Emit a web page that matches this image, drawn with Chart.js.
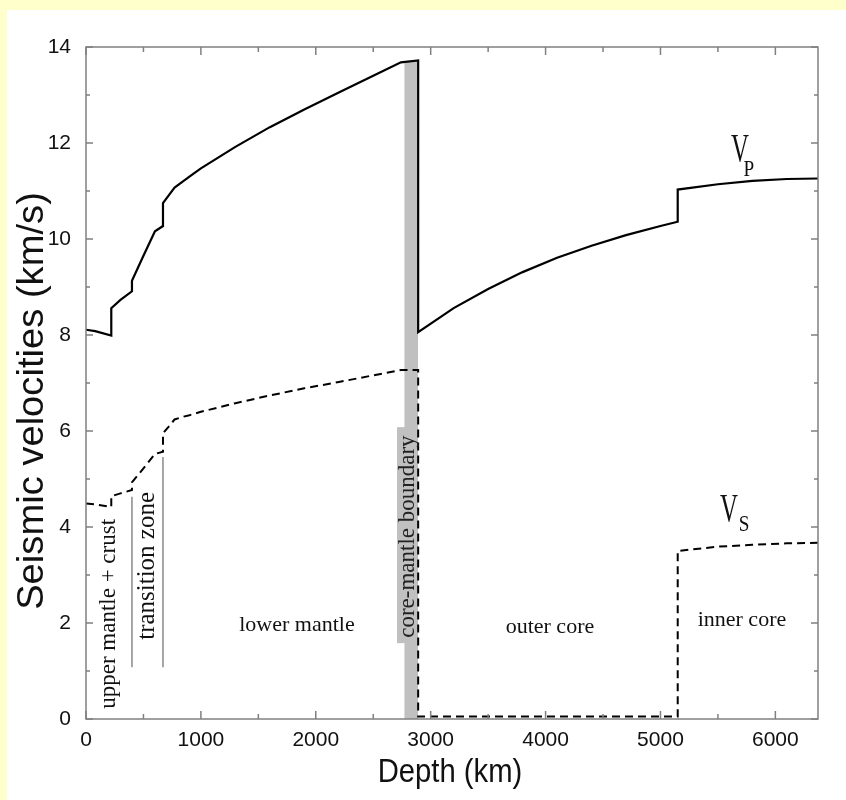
<!DOCTYPE html>
<html>
<head>
<meta charset="utf-8">
<script src="https://cdn.jsdelivr.net/npm/chart.js@4.4.1/dist/chart.umd.min.js"></script>
<style>
  html, body { margin: 0; padding: 0; }
  body { background: #ffffcc; width: 846px; height: 800px; position: relative; overflow: hidden; }
  #caixa { position: absolute; left: 7px; top: 10px; width: 839px; height: 790px; background: #fff; }
  canvas { display: block; }
</style>
</head>
<body>
<div id="caixa"><canvas id="myChart" width="839" height="790"></canvas></div>
<script>
// profundidade (km) e velocidades (km/s)
let vpDepth = [0, 80, 220, 220, 300, 400, 400, 500, 600, 670, 670, 720, 771, 850, 900, 1000, 1300, 1600, 1900, 2200, 2500, 2741, 2891, 2891, 3200, 3500, 3800, 4100, 4400, 4700, 5000, 5150, 5150, 5500, 5800, 6100, 6371];
let vpValues = [8.11, 8.08, 7.99, 8.56, 8.73, 8.91, 9.13, 9.65, 10.16, 10.27, 10.75, 10.91, 11.07, 11.21, 11.30, 11.47, 11.92, 12.33, 12.70, 13.05, 13.40, 13.68, 13.72, 8.06, 8.56, 8.96, 9.31, 9.61, 9.86, 10.08, 10.27, 10.36, 11.03, 11.14, 11.21, 11.25, 11.26];

let vsDepth = [0, 80, 220, 220, 300, 400, 400, 500, 600, 670, 670, 720, 771, 850, 900, 1000, 1300, 1600, 1900, 2200, 2500, 2741, 2891, 2891, 5150, 5150, 5500, 5800, 6100, 6371];
let vsValues = [4.49, 4.47, 4.42, 4.64, 4.70, 4.77, 4.93, 5.22, 5.52, 5.57, 5.95, 6.09, 6.24, 6.30, 6.33, 6.40, 6.58, 6.74, 6.89, 7.02, 7.16, 7.27, 7.27, 0.05, 0.05, 3.50, 3.59, 3.63, 3.66, 3.67];

// faixa cinza da fronteira nucleo-manto
let cmbDepth = [2770, 2891];
let cmbTop = [13.69, 13.72];

// linhas verticais da zona de transicao
let zonaDepth = [400, 670];
let zonaTopo = [4.63, 5.46];
let zonaBase = 1.08;

let xTickLabels = [0, 1000, 2000, 3000, 4000, 5000, 6000];
let yTickLabels = [0, 2, 4, 6, 8, 10, 12, 14];
let xMinorTicks = [0, 500, 1000, 1500, 2000, 2500, 3000, 3500, 4000, 4500, 5000, 5500, 6000];
let yMinorTicks = [0, 1, 2, 3, 4, 5, 6, 7, 8, 9, 10, 11, 12, 13, 14];

function juntar(xs, ys) {
    let pts = [];
    for (let i = 0; i < xs.length; i++) {
        pts.push({ x: xs[i], y: ys[i] });
    }
    return pts;
}

// textos sobre o grafico (posicao em km e km/s)
const rotulos = [
    { txt: 'upper mantle + crust', x: 200, y: 2.19, rot: -90, size: 23 },
    { txt: 'transition zone', x: 531, y: 3.19, rot: -90, size: 25 },
    { txt: 'lower mantle', x: 1836, y: 1.96, rot: 0, size: 22 },
    { txt: 'outer core', x: 4038, y: 1.92, rot: 0, size: 22 },
    { txt: 'inner core', x: 5709, y: 2.06, rot: 0, size: 22 }
];

const corFrame = '#808080';

const molduraPlugin = {
    id: 'moldura',
    afterDatasetsDraw(chart) {
        const ctx = chart.ctx;
        const xs = chart.scales.x;
        const ys = chart.scales.y;

        // caixa cinza do rotulo core-mantle boundary
        ctx.save();
        ctx.fillStyle = '#c0c0c0';
        let bx0 = xs.getPixelForValue(2707), bx1 = xs.getPixelForValue(2864);
        let by0 = ys.getPixelForValue(6.08), by1 = ys.getPixelForValue(1.58);
        ctx.fillRect(bx0, by0, bx1 - bx0, by1 - by0);
        ctx.restore();

        // linhas da zona de transicao
        ctx.save();
        ctx.strokeStyle = '#8a8a8a';
        ctx.lineWidth = 1.5;
        for (let i = 0; i < zonaDepth.length; i++) {
            let px = xs.getPixelForValue(zonaDepth[i]);
            ctx.beginPath();
            ctx.moveTo(px, ys.getPixelForValue(zonaTopo[i]));
            ctx.lineTo(px, ys.getPixelForValue(zonaBase));
            ctx.stroke();
        }
        ctx.restore();
    },
    afterDraw(chart) {
        const ctx = chart.ctx;
        const a = chart.chartArea;
        const xs = chart.scales.x;
        const ys = chart.scales.y;

        ctx.save();
        ctx.strokeStyle = corFrame;
        ctx.lineWidth = 1.5;
        ctx.strokeRect(a.left, a.top, a.right - a.left, a.bottom - a.top);

        // tiques para dentro nos quatro lados
        ctx.beginPath();
        xMinorTicks.forEach(v => {
            let px = xs.getPixelForValue(v);
            let len = (v % 1000 === 0) ? 8 : 5;
            ctx.moveTo(px, a.bottom);
            ctx.lineTo(px, a.bottom - len);
            ctx.moveTo(px, a.top);
            ctx.lineTo(px, a.top + len);
        });
        yMinorTicks.forEach(v => {
            let py = ys.getPixelForValue(v);
            let len = (v % 2 === 0) ? 7 : 4;
            ctx.moveTo(a.left, py);
            ctx.lineTo(a.left + len, py);
            ctx.moveTo(a.right, py);
            ctx.lineTo(a.right - len, py);
        });
        ctx.stroke();
        ctx.restore();

        ctx.fillStyle = '#111';

        // titulos dos eixos
        escreve(ctx, 'Seismic velocities (km/s)', 36, 391, '36px "Liberation Sans", Arial, sans-serif', -90, 1.06, 1, 'alphabetic');
        escreve(ctx, 'Depth (km)', 443, 772, '34px "Liberation Sans", Arial, sans-serif', 0, 0.86, 1, 'alphabetic');

        // rotulos das camadas
        rotulos.forEach(r => {
            escreve(ctx, r.txt, xs.getPixelForValue(r.x), ys.getPixelForValue(r.y),
                r.size + 'px "Liberation Serif", "Times New Roman", serif', r.rot, 1, 1, 'middle');
        });
        ctx.fillStyle = '#222';
        escreve(ctx, 'core-mantle boundary', xs.getPixelForValue(2802), ys.getPixelForValue(3.80),
            '23px "Liberation Serif", "Times New Roman", serif', -90, 1, 1, 'middle');

        // V_P e V_S
        ctx.fillStyle = '#111';
        escreve(ctx, 'V', xs.getPixelForValue(5692), ys.getPixelForValue(11.85), '40px "Liberation Serif", serif', 0, 0.62, 1, 'middle');
        escreve(ctx, 'P', xs.getPixelForValue(5770), ys.getPixelForValue(11.44), '24px "Liberation Serif", serif', 0, 0.8, 1, 'middle');
        escreve(ctx, 'V', xs.getPixelForValue(5596), ys.getPixelForValue(4.35), '40px "Liberation Serif", serif', 0, 0.62, 1, 'middle');
        escreve(ctx, 'S', xs.getPixelForValue(5727), ys.getPixelForValue(4.04), '24px "Liberation Serif", serif', 0, 0.8, 1, 'middle');
    }
};

function escreve(ctx, txt, x, y, font, rot, sx, sy, base) {
    ctx.save();
    ctx.translate(x, y);
    ctx.rotate(rot * Math.PI / 180);
    ctx.scale(sx, sy);
    ctx.font = font;
    ctx.textAlign = 'center';
    ctx.textBaseline = base;
    ctx.fillText(txt, 0, 0);
    ctx.restore();
}

const fonteTicks = { family: '"Liberation Sans Narrow", "Liberation Sans", Arial, sans-serif', size: 21 };

const config = {
    type: 'line',
    data: {
        datasets: [
            {
                label: 'Vp',
                data: juntar(vpDepth, vpValues),
                borderColor: '#000',
                borderWidth: 2.2,
                pointRadius: 0,
                tension: 0,
                fill: false,
                order: 1
            },
            {
                label: 'Vs',
                data: juntar(vsDepth, vsValues),
                borderColor: '#000',
                borderWidth: 2,
                borderDash: [8, 5],
                pointRadius: 0,
                tension: 0,
                fill: false,
                order: 2
            },
            {
                label: 'CMB',
                data: juntar(cmbDepth, cmbTop),
                borderWidth: 0,
                borderColor: 'rgba(0,0,0,0)',
                backgroundColor: '#c0c0c0',
                pointRadius: 0,
                fill: 'origin',
                order: 3
            }
        ]
    },
    options: {
        responsive: false,
        animation: false,
        layout: { padding: { top: 37, right: 28, left: 0, bottom: 0 } },
        plugins: {
            legend: { display: false },
            tooltip: { enabled: false }
        },
        scales: {
            x: {
                type: 'linear',
                min: 0,
                max: 6371,
                grid: { display: false, drawTicks: false },
                border: { display: false },
                ticks: { font: fonteTicks, color: '#111', padding: 9, maxRotation: 0, autoSkip: false, callback: v => String(v) },
                afterBuildTicks: s => { s.ticks = xTickLabels.map(v => ({ value: v })); },
                afterFit: s => { s.height = 81; }
            },
            y: {
                type: 'linear',
                min: 0,
                max: 14,
                grid: { display: false, drawTicks: false },
                border: { display: false },
                ticks: { font: fonteTicks, color: '#111', padding: 15, autoSkip: false, callback: v => String(v) },
                afterBuildTicks: s => { s.ticks = yTickLabels.map(v => ({ value: v })); },
                afterFit: s => { s.width = 79; }
            }
        }
    },
    plugins: [molduraPlugin]
};

let myChart = new Chart(document.getElementById('myChart'), config);
</script>
</body>
</html>
